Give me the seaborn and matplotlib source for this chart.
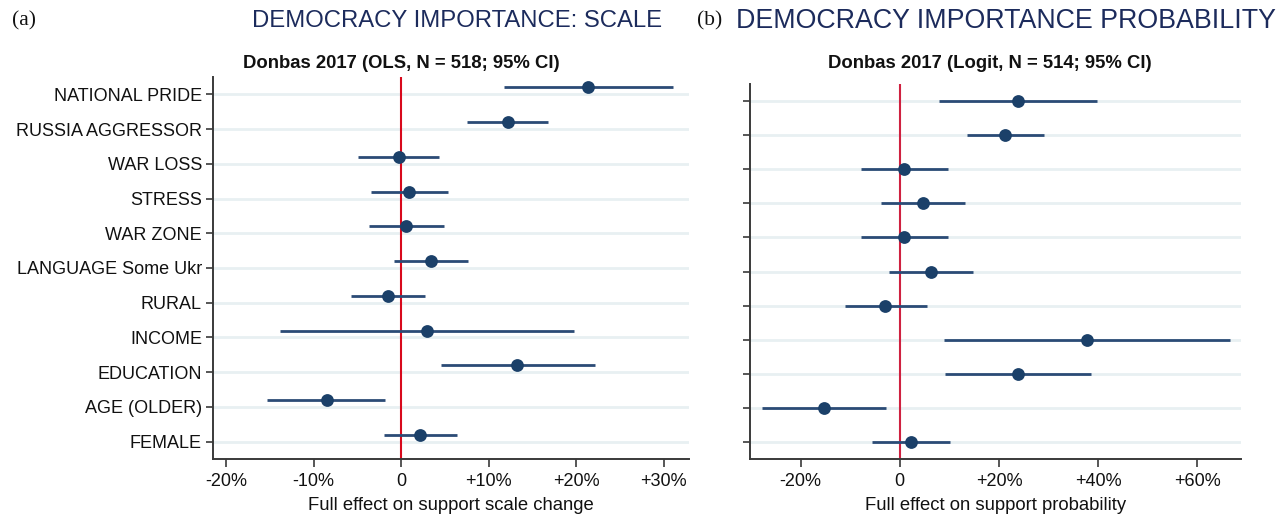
import numpy as np
import pandas as pd
import matplotlib
matplotlib.use("Agg")
import matplotlib.pyplot as plt
import seaborn as sns

# ---------------- data ----------------
labels = ["NATIONAL PRIDE", "RUSSIA AGGRESSOR", "WAR LOSS", "STRESS", "WAR ZONE",
          "LANGUAGE Some Ukr", "RURAL", "INCOME", "EDUCATION", "AGE (OLDER)", "FEMALE"]
scale_est = [21.4, 12.2, -0.3, 0.95, 0.6, 3.4, -1.5, 3.0, 13.2, -8.5, 2.2]
scale_lo = [11.8, 7.5, -4.9, -3.5, -3.7, -0.8, -5.7, -13.8, 4.5, -15.3, -2.0]
scale_hi = [31.1, 16.8, 4.3, 5.4, 4.9, 7.6, 2.7, 19.8, 22.1, -1.8, 6.4]
prob_est = [23.8, 21.2, 0.9, 4.6, 0.9, 6.3, -2.9, 37.8, 23.9, -15.2, 2.2]
prob_lo = [8.0, 13.5, -7.9, -3.7, -7.9, -2.1, -11.1, 9.0, 9.1, -27.8, -5.7]
prob_hi = [39.7, 29.0, 9.7, 13.1, 9.7, 14.7, 5.5, 66.6, 38.6, -2.7, 10.1]
scale_ticks = [-20, -10, 0, 10, 20, 30]
prob_ticks = [-20, 0, 20, 40, 60]

# ---------------- style ----------------
sns.set_theme(style="white")
plt.rcParams['font.family'] = ['Liberation Sans', 'DejaVu Sans']

W, H = 1287, 516
fig = plt.figure(figsize=(W / 100, H / 100), dpi=100)

def fx(px):
    return px / W

def fy(py):
    return 1 - py / H

ax1 = fig.add_axes([fx(213), fy(459), fx(689 - 213), (459 - 77) / H])
ax2 = fig.add_axes([fx(750), fy(459), fx(1241 - 750), (459 - 84) / H])

NAVY = "#1b4069"
CI_COL = "#2b4b76"
GRID = "#e8f0f2"
SPINE = "#3a3a3a"

def fmt(v):
    return "0" if v == 0 else ("%+d%%" % v)

def panel(ax, est, lo, hi, xlim, ticks, red, offset, show_labels, xlabel):
    pos = np.arange(len(labels))
    df = pd.DataFrame({"label": labels, "est": est, "lo": lo, "hi": hi,
                       "y": pos + offset})
    for p in pos:
        ax.axhline(p, color=GRID, lw=2.0, zorder=0)
    ax.axvline(0, color=red, lw=1.5, zorder=1)
    ax.hlines(df["y"], df["lo"], df["hi"], color=CI_COL, lw=2.0, zorder=2)
    sns.scatterplot(data=df, x="est", y="y", ax=ax, color=NAVY, s=85,
                    edgecolor=NAVY, linewidth=0, zorder=3, legend=False)
    ax.set_xlim(*xlim)
    ax.set_ylim(len(labels) - 0.5, -0.5)
    ax.set_yticks(pos)
    if show_labels:
        ax.set_yticklabels(labels, fontsize=13, color="#111111")
    else:
        ax.set_yticklabels([])
    ax.set_xticks(ticks)
    ax.set_xticklabels([fmt(t) for t in ticks], fontsize=13, color="#111111")
    ax.set_ylabel("")
    ax.set_xlabel(xlabel, fontsize=13.3, color="#111111", labelpad=5)
    for s in ["top", "right"]:
        ax.spines[s].set_visible(False)
    for s in ["left", "bottom"]:
        ax.spines[s].set_color(SPINE)
        ax.spines[s].set_linewidth(1.4)
    ax.tick_params(axis="y", left=True, length=5, width=1.2, color=SPINE, pad=3)
    ax.tick_params(axis="x", bottom=True, length=6, width=1.2, color=SPINE, pad=4)
    ax.grid(False)

panel(ax1, scale_est, scale_lo, scale_hi, (-21.5, 32.9), scale_ticks, "#d8091c", -0.2,
      True, "Full effect on support scale change")
panel(ax2, prob_est, prob_lo, prob_hi, (-30.2, 68.8), prob_ticks, "#cf2140", 0.0,
      False, "Full effect on support probability")

TITLE = "#1c2b5c"
SERIF = ["Liberation Serif", "DejaVu Serif"]
fig.text(fx(12), fy(21), "(a)", family=SERIF, fontsize=15.5,
         ha="left", va="center", color="#111111")
fig.text(fx(457), fy(21), "DEMOCRACY IMPORTANCE: SCALE", fontsize=17.2, ha="center",
         va="center", color=TITLE)
fig.text(fx(697), fy(21), "(b)", family=SERIF, fontsize=15.5,
         ha="left", va="center", color="#111111")
fig.text(fx(1006), fy(21), "DEMOCRACY IMPORTANCE PROBABILITY", fontsize=19.3, ha="center",
         va="center", color=TITLE)
fig.text(fx(401), fy(64), "Donbas 2017 (OLS, N = 518; 95% CI)", fontsize=13.3,
         fontweight="bold", ha="center", va="center", color="#111111")
fig.text(fx(990), fy(64), "Donbas 2017 (Logit, N = 514; 95% CI)", fontsize=13.3,
         fontweight="bold", ha="center", va="center", color="#111111")

fig.savefig("out.png", dpi=100)
